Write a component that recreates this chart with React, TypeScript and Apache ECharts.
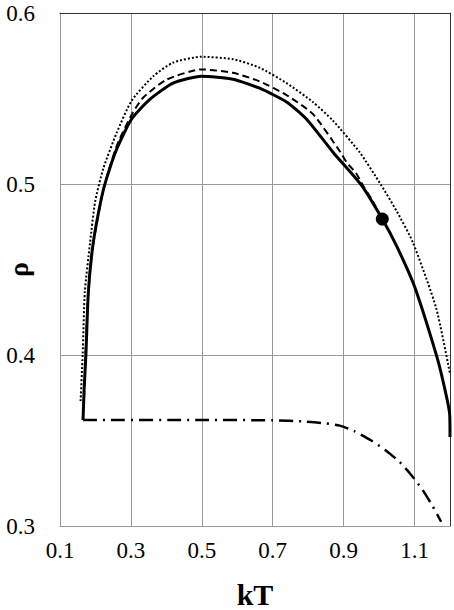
import React, { useEffect, useRef } from "react";
import * as echarts from "echarts";

const xTickLabels = ["0.1", "0.3", "0.5", "0.7", "0.9", "1.1"];
const yTickLabels = ["0.3", "0.4", "0.5", "0.6"];

const solidX = [0.165, 0.168, 0.173, 0.18, 0.194, 0.217, 0.231, 0.26, 0.302, 0.354, 0.419, 0.499, 0.588, 0.663, 0.739, 0.795, 0.87, 0.95, 1.009, 1.05, 1.1, 1.161, 1.18, 1.199, 1.2];
const solidY = [0.362, 0.38, 0.4, 0.437, 0.466, 0.492, 0.503, 0.5205, 0.538, 0.5496, 0.559, 0.563, 0.5613, 0.556, 0.548, 0.538, 0.5186, 0.4993, 0.4795, 0.4635, 0.44, 0.4004, 0.385, 0.3655, 0.352];

const dashedX = [0.168, 0.172, 0.178, 0.19, 0.217, 0.236, 0.264, 0.306, 0.335, 0.4, 0.499, 0.588, 0.663, 0.739, 0.813, 0.891, 0.908, 0.936, 0.954, 0.978, 1.009];
const dashedY = [0.375, 0.4, 0.43, 0.46, 0.4915, 0.507, 0.5244, 0.542, 0.5506, 0.561, 0.567, 0.565, 0.56, 0.552, 0.541, 0.5186, 0.5128, 0.506, 0.4993, 0.4915, 0.4795];

const dottedX = [0.158, 0.164, 0.17, 0.185, 0.199, 0.222, 0.26, 0.302, 0.363, 0.419, 0.499, 0.588, 0.663, 0.739, 0.813, 0.87, 0.945, 1.006, 1.05, 1.095, 1.161, 1.2];
const dottedY = [0.373, 0.4004, 0.437, 0.466, 0.4895, 0.509, 0.53, 0.5487, 0.563, 0.571, 0.5744, 0.573, 0.568, 0.559, 0.548, 0.537, 0.5186, 0.4993, 0.484, 0.466, 0.4275, 0.389];

const dashDotX = [0.165, 0.5, 0.7, 0.785, 0.85, 0.889, 0.93, 0.978, 1.02, 1.058, 1.09, 1.123, 1.15, 1.175];
const dashDotY = [0.362, 0.362, 0.3618, 0.3612, 0.36, 0.3587, 0.3555, 0.35, 0.344, 0.3374, 0.33, 0.321, 0.312, 0.3025];

const criticalPoint = [1.009, 0.4795];

const zip = (xs: number[], ys: number[]) => xs.map((x, i) => [x, ys[i]]);

export default function App() {
  const ref = useRef<HTMLDivElement>(null);
  useEffect(() => {
    if (!ref.current) return;
    const chart = echarts.init(ref.current, null, { renderer: "svg" });
    const font = "Liberation Serif";
    const lineBase = { type: "line", showSymbol: false, smooth: 0.2 };
    chart.setOption({
      animation: false,
      backgroundColor: "#fff",
      textStyle: { fontFamily: font },
      grid: { left: 60, top: 13, right: 4, bottom: 84, containLabel: false, outerBoundsMode: "none" },
      xAxis: [
        {
          type: "value",
          min: 0.1,
          max: 1.2,
          interval: 0.2,
          name: "kT",
          nameLocation: "middle",
          nameGap: 53,
          nameMoveOverlap: false,
          nameTextStyle: { fontFamily: font, fontSize: 30, fontWeight: "bold", color: "#000" },
          axisLine: { show: true, lineStyle: { color: "#999", width: 1 } },
          axisTick: { show: false },
          axisLabel: {
            fontFamily: font,
            fontSize: 23,
            lineHeight: 20,
            color: "#000",
            margin: 14,
            showMaxLabel: false,
            formatter: (v: number) => {
              const s = v.toFixed(1);
              return xTickLabels.includes(s) ? s : "";
            },
          },
          splitLine: { show: true, lineStyle: { color: "#999", width: 1 } },
        },
        {
          type: "value",
          position: "top",
          min: 0.1,
          max: 1.2,
          axisLine: { show: true, lineStyle: { color: "#333", width: 1 } },
          axisTick: { show: false },
          axisLabel: { show: false },
          splitLine: { show: false },
        },
      ],
      yAxis: [
        {
          type: "value",
          min: 0.3,
          max: 0.6,
          interval: 0.1,
          name: "ρ",
          nameLocation: "middle",
          nameGap: 28,
          nameRotate: 90,
          nameMoveOverlap: false,
          nameTextStyle: { fontFamily: font, fontSize: 28, fontWeight: "bold", color: "#000" },
          axisLine: { show: true, lineStyle: { color: "#999", width: 1 } },
          axisTick: { show: false },
          axisLabel: {
            fontFamily: font,
            fontSize: 23,
            lineHeight: 20,
            color: "#000",
            margin: 25,
            formatter: (v: number) => {
              const s = v.toFixed(1);
              return yTickLabels.includes(s) ? s : "";
            },
          },
          splitLine: { show: true, lineStyle: { color: "#999", width: 1 } },
        },
        {
          type: "value",
          position: "right",
          min: 0.3,
          max: 0.6,
          axisLine: { show: true, lineStyle: { color: "#333", width: 1 } },
          axisTick: { show: false },
          axisLabel: { show: false },
          splitLine: { show: false },
        },
      ],
      series: [
        {
          ...lineBase,
          data: zip(dottedX, dottedY),
          lineStyle: { color: "#000", width: 2, type: [2, 2] },
          z: 2,
        },
        {
          ...lineBase,
          data: zip(dashedX, dashedY),
          lineStyle: { color: "#000", width: 2, type: [7, 4] },
          z: 3,
        },
        {
          ...lineBase,
          data: zip(dashDotX, dashDotY),
          lineStyle: { color: "#000", width: 2.5, type: [14, 6, 2, 6] },
          z: 3,
        },
        {
          ...lineBase,
          data: zip(solidX, solidY),
          lineStyle: { color: "#000", width: 3 },
          z: 4,
        },
        {
          type: "scatter",
          data: [criticalPoint],
          symbol: "circle",
          symbolSize: 13,
          itemStyle: { color: "#000", opacity: 1 },
          emphasis: { disabled: true },
          z: 5,
        },
      ],
    });
    return () => chart.dispose();
  }, []);
  return <div ref={ref} style={{ width: 454, height: 610, position: "absolute", left: 0, top: 0 }} />;
}
